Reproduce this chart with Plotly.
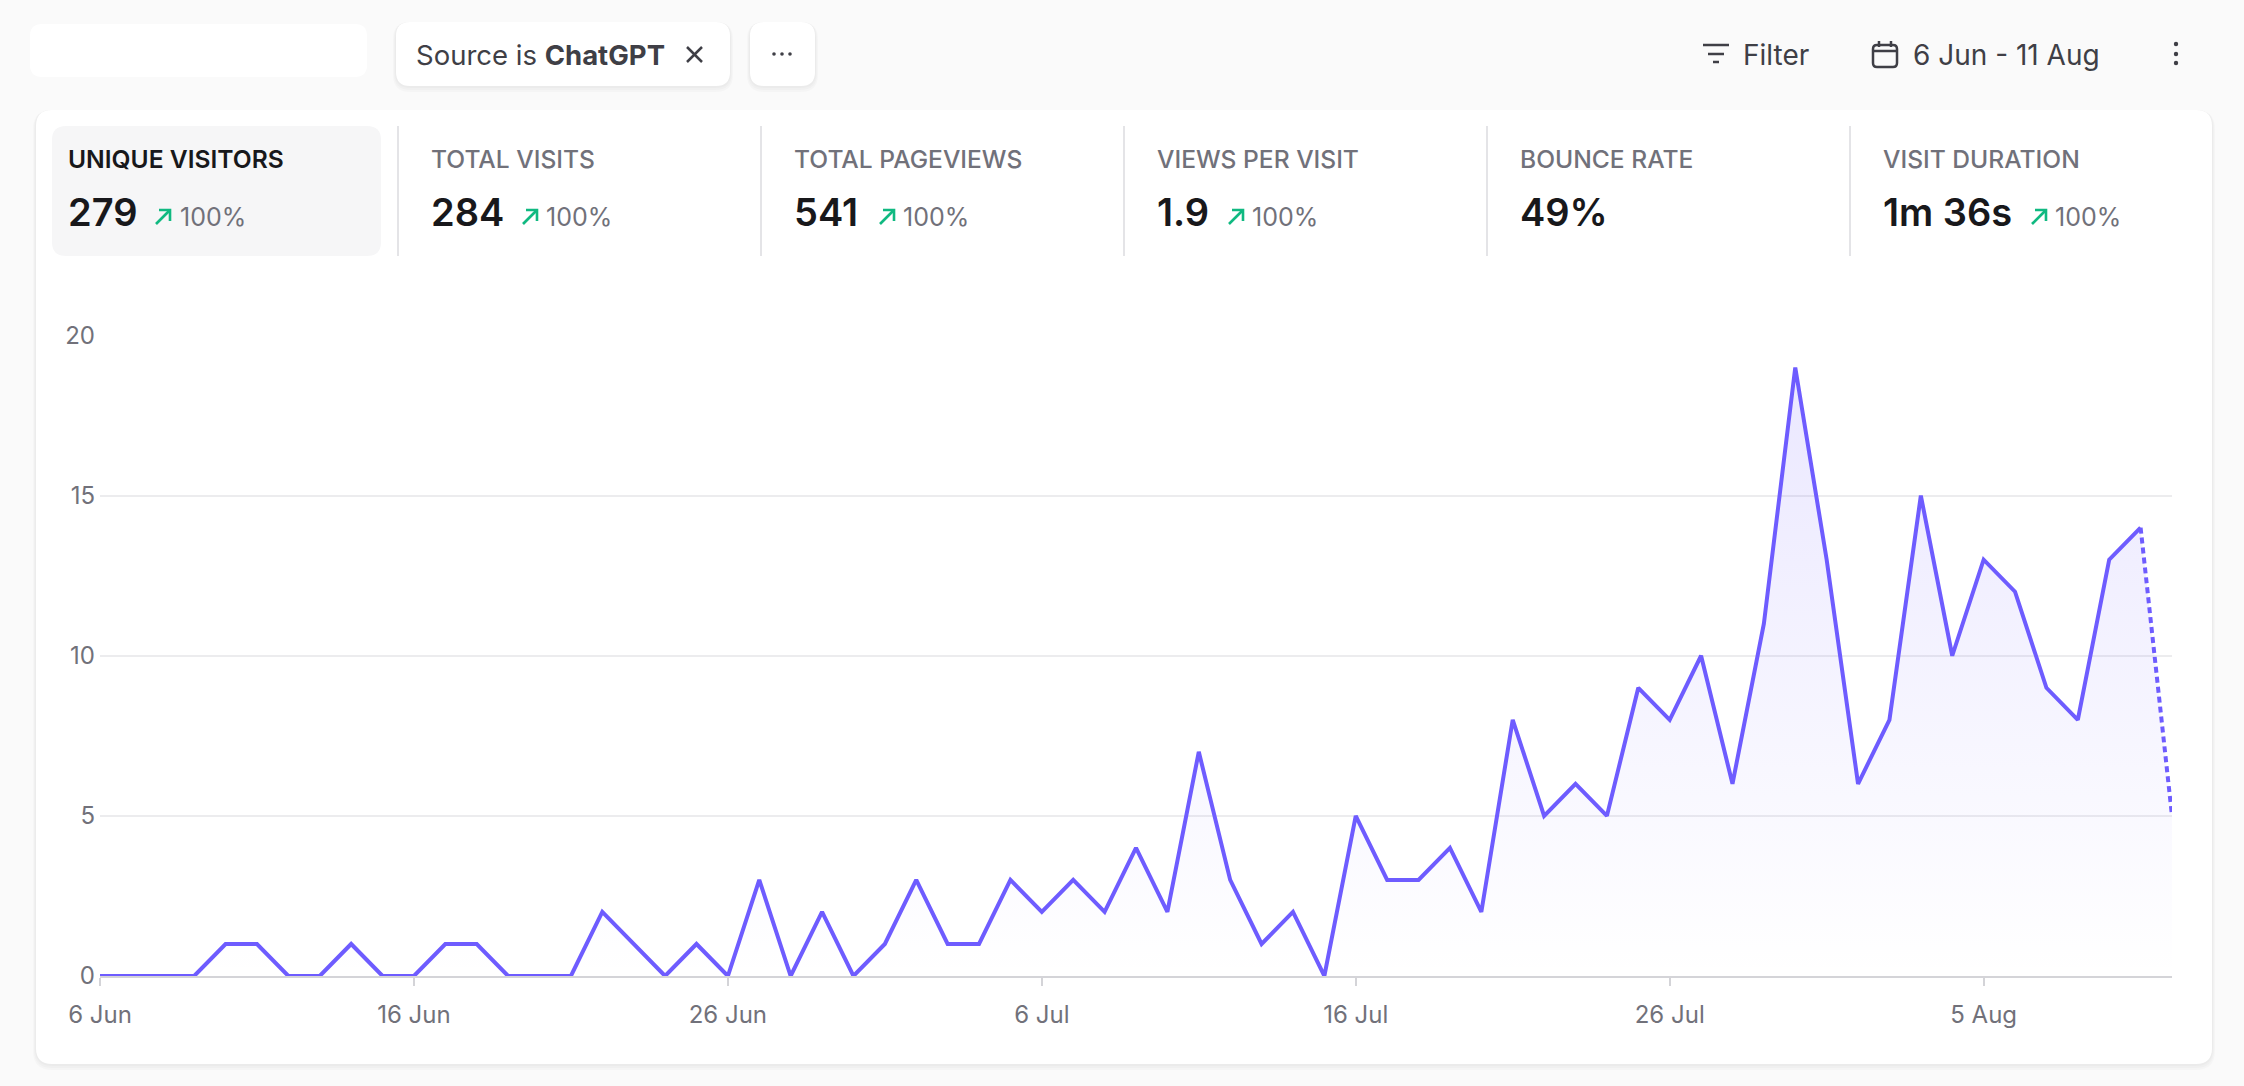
import pandas as pd
import plotly.graph_objects as go

# Visitors per day, 6 Jun - 11 Aug
visitors = [0, 0, 0, 0, 1, 1, 0, 0, 1, 0, 0, 1, 1, 0, 0, 0, 2, 1, 0, 1,
            0, 3, 0, 2, 0, 1, 3, 1, 1, 3, 2, 3, 2, 4, 2, 7, 3, 1, 2, 0,
            5, 3, 3, 4, 2, 8, 5, 6, 5, 9, 8, 10, 6, 11, 19, 13, 6, 8, 15, 10,
            13, 12, 9, 8, 13, 14, 5]
dates = pd.date_range("2024-06-06", periods=len(visitors), freq="D")
x_ticks = ["2024-06-06", "2024-06-16", "2024-06-26", "2024-07-06", "2024-07-16", "2024-07-26", "2024-08-05"]
x_labels = ["6 Jun", "16 Jun", "26 Jun", "6 Jul", "16 Jul", "26 Jul", "5 Aug"]
y_ticks = [0, 5, 10, 15, 20]

stat_names = ["UNIQUE VISITORS", "TOTAL VISITS", "TOTAL PAGEVIEWS", "VIEWS PER VISIT", "BOUNCE RATE", "VISIT DURATION"]
stat_values = ["279", "284", "541", "1.9", "49%", "1m 36s"]
stat_deltas = ["100%", "100%", "100%", "100%", "", "100%"]

W, H = 2244, 1086
FONT = "Inter"
PURPLE = "#6E5CFF"
GRAY = "#71717A"
DARK = "#18181B"
CHIP = "#3F3F46"

name_x = [68, 431, 794, 1157, 1520, 1883]
arrow_x = [155, 522, 879, 1228, None, 2031]
delta_x = [180, 546, 903, 1252, None, 2055]
divider_x = [398, 761, 1124, 1487, 1850]


def px(x):
    return x / W


def py(y):
    return 1 - y / H


def pt(x, y):
    return f"{px(x):.5f},{py(y):.5f}"


def round_rect(x0, y0, x1, y1, r):
    return (f"M{pt(x0 + r, y0)} L{pt(x1 - r, y0)} Q{pt(x1, y0)} {pt(x1, y0 + r)} "
            f"L{pt(x1, y1 - r)} Q{pt(x1, y1)} {pt(x1 - r, y1)} "
            f"L{pt(x0 + r, y1)} Q{pt(x0, y1)} {pt(x0, y1 - r)} "
            f"L{pt(x0, y0 + r)} Q{pt(x0, y0)} {pt(x0 + r, y0)} Z")


def box(x0, y0, x1, y1, r, color):
    return dict(type="path", path=round_rect(x0, y0, x1, y1, r), xref="paper", yref="paper",
                fillcolor=color, line_width=0, layer="below")


def shadowed(x0, y0, x1, y1, r):
    out = []
    for grow, drop in [(3, 3), (2, 2), (1, 1)]:
        out.append(box(x0 - grow, y0 - grow + drop, x1 + grow, y1 + grow + drop, r + grow, "rgba(0,0,0,0.02)"))
    out.append(box(x0, y0, x1, y1, r, "white"))
    return out


def stroke(points, color, width=2.5):
    path = "M" + " L".join(pt(x, y) for x, y in points)
    return dict(type="path", path=path, xref="paper", yref="paper",
                line=dict(color=color, width=width), layer="above")


def dot(x, y, r, color):
    return dict(type="circle", xref="paper", yref="paper", x0=px(x - r), x1=px(x + r), y0=py(y + r), y1=py(y - r),
                fillcolor=color, line_width=0, layer="above")


def label(x, y, text, size, color, xanchor="left", weight=None):
    font = dict(family=FONT, size=size, color=color)
    if weight:
        font["weight"] = weight
    return dict(x=px(x), y=py(y), xref="paper", yref="paper", text=text, showarrow=False,
                xanchor=xanchor, yanchor="middle", font=font, borderpad=0, borderwidth=0)


fig = go.Figure()
fig.add_trace(go.Scatter(x=dates, y=visitors, mode="none", fill="tozeroy", hoverinfo="skip",
                         fillgradient=dict(type="vertical",
                                           colorscale=[[0, "rgba(108,87,255,0)"], [1, "rgba(108,87,255,0.14)"]])))
fig.add_trace(go.Scatter(x=dates[:-1], y=visitors[:-1], mode="lines", cliponaxis=False,
                         line=dict(color=PURPLE, width=4)))
fig.add_trace(go.Scatter(x=dates[-2:], y=visitors[-2:], mode="lines", cliponaxis=False,
                         line=dict(color=PURPLE, width=4, dash="6px,4px")))

shapes = []
shapes += shadowed(36, 110, 2212, 1064, 16)
shapes.append(box(30, 24, 367, 77, 12, "white"))
shapes += shadowed(396, 22, 730, 86, 14)
shapes += shadowed(750, 22, 815, 86, 14)
shapes.append(box(52, 126, 381, 256, 14, "#F6F6F7"))
for x in divider_x:
    shapes.append(stroke([(x, 126), (x, 256)], "#E4E4E7", 2))

# icons: chip close, overflow dots, filter, calendar, kebab
shapes.append(stroke([(687, 47), (702, 62)], CHIP))
shapes.append(stroke([(702, 47), (687, 62)], CHIP))
for x in [774, 782, 790]:
    shapes.append(dot(x, 54, 1.8, CHIP))
shapes.append(stroke([(1703, 45), (1729, 45)], CHIP))
shapes.append(stroke([(1708, 54), (1724, 54)], CHIP))
shapes.append(stroke([(1713, 62), (1719, 62)], CHIP))
shapes.append(dict(type="path", path=round_rect(1873, 45, 1897, 67, 4), xref="paper", yref="paper",
                   line=dict(color=CHIP, width=2.5), fillcolor="rgba(0,0,0,0)", layer="above"))
shapes.append(stroke([(1873, 51), (1897, 51)], CHIP))
shapes.append(stroke([(1879, 41), (1879, 47)], CHIP))
shapes.append(stroke([(1891, 41), (1891, 47)], CHIP))
for y in [44, 54, 63]:
    shapes.append(dot(2176, y, 2.2, CHIP))

# green delta arrows
for x in arrow_x:
    if x is not None:
        shapes.append(stroke([(x + 1, 224), (x + 15, 210)], "#10B981", 2.6))
        shapes.append(stroke([(x + 4, 210), (x + 15, 210), (x + 15, 221)], "#10B981", 2.6))

notes = [
    label(416, 55, "Source is <b>ChatGPT</b>", 27.5, CHIP),
    label(1743, 55, "Filter", 28, CHIP),
    label(1913, 55, "6 Jun - 11 Aug", 28, CHIP),
]
for i, name in enumerate(stat_names):
    active = i == 0
    notes.append(label(name_x[i], 159, name, 24.6, DARK if active else GRAY, weight=600 if active else 500))
    notes.append(label(name_x[i], 212, stat_values[i], 38, DARK, weight=600))
    if stat_deltas[i]:
        notes.append(label(delta_x[i], 217, stat_deltas[i], 25, GRAY))

fig.update_layout(
    width=W, height=H, autosize=False, showlegend=False,
    margin=dict(l=0, r=0, t=0, b=0, pad=0),
    paper_bgcolor="#FAFAFA", plot_bgcolor="rgba(0,0,0,0)",
    font=dict(family=FONT, color=GRAY),
    shapes=shapes, annotations=notes,
)
fig.update_xaxes(domain=[px(100), px(2172)], range=[dates[0], dates[-1]], tickvals=x_ticks, ticktext=x_labels,
                 showgrid=False, zeroline=False, showline=True, linecolor="#D4D4D8", linewidth=2,
                 ticks="outside", ticklen=8, tickwidth=1.5, tickcolor="#D4D4D8", ticklabelstandoff=8,
                 tickfont=dict(family=FONT, size=24, color=GRAY), automargin=False)
fig.update_yaxes(domain=[py(976), py(335.5)], range=[0, 20], tickvals=y_ticks,
                 showgrid=True, gridcolor="#ECECEE", gridwidth=2, zeroline=False, showline=False,
                 ticks="", ticklabelstandoff=4,
                 tickfont=dict(family=FONT, size=24, color=GRAY), automargin=False)

fig.write_html("out.html", config={"displayModeBar": False},
               post_script="document.body.style.margin='0';document.body.style.overflow='hidden';")
